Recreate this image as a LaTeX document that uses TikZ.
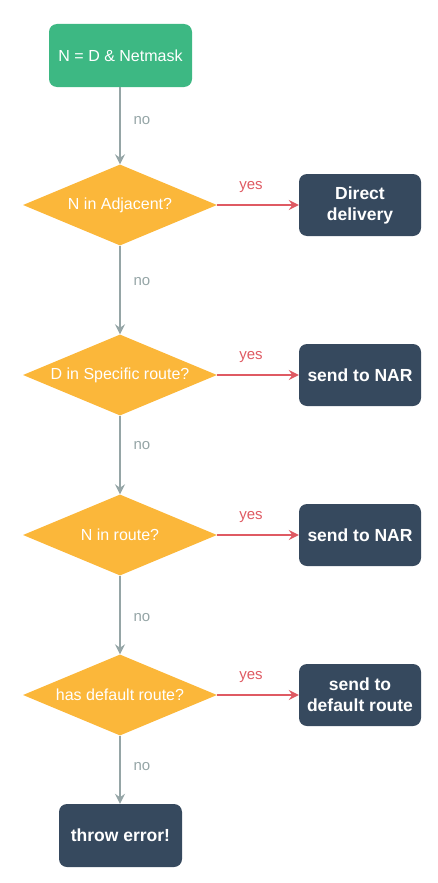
\documentclass[tikz,border=0pt]{standalone}
\usepackage{fontspec}
\setmainfont{Liberation Sans}
\usetikzlibrary{shapes.geometric,arrows.meta}
\definecolor{startgreen}{HTML}{3DB883}
\definecolor{dark}{HTML}{36495E}
\definecolor{amber}{HTML}{FBB73A}
\definecolor{noline}{HTML}{95A5A6}
\definecolor{yesline}{HTML}{DF5A63}
\tikzset{
  startbox/.style={draw=none,fill=startgreen,rounded corners=8pt,minimum width=143pt,minimum height=63pt,text=white,font=\fontsize{16}{19}\selectfont},
  endbox/.style={draw=none,fill=dark,rounded corners=8pt,minimum width=122pt,minimum height=62pt,text=white,font=\bfseries\fontsize{17.5}{21}\selectfont,align=center,inner sep=0pt},
  decide/.style={diamond,draw=none,fill=amber,minimum width=194pt,minimum height=81pt,aspect=2.4,inner sep=0pt},
  dtext/.style={text=white,font=\fontsize{16}{19}\selectfont},
  noarrow/.style={draw=noline,line width=1.6pt,-{Stealth[length=10pt,width=10pt,inset=3.5pt]}},
  yesarrow/.style={draw=yesline,line width=1.6pt,-{Stealth[length=10pt,width=10pt,inset=3.5pt]}},
  nolabel/.style={text=noline,font=\fontsize{15}{18}\selectfont},
  yeslabel/.style={text=yesline,font=\fontsize{15}{18}\selectfont}
}
\begin{document}
\begin{tikzpicture}[x=1pt,y=-1pt]
\useasboundingbox (0,0) rectangle (438,883);
\node[startbox] (s) at (120.5,55.5) {N = D \& Netmask};
\node[decide] (d1) at (120,205) {};
\node[dtext] (t1) at (120,205) {N in Adjacent?};
\node[decide] (d2) at (120,375) {};
\node[dtext] (t2) at (120,375) {D in Specific route?};
\node[decide] (d3) at (120,535) {};
\node[dtext] (t3) at (120,535) {N in route?};
\node[decide] (d4) at (120,695) {};
\node[dtext] (t4) at (120,695) {has default route?};
\node[endbox] (e1) at (360,205) {Direct\\delivery};
\node[endbox] (e2) at (360,375) {send to NAR};
\node[endbox] (e3) at (360,535) {send to NAR};
\node[endbox] (e4) at (360,695) {send to\\default route};
\node[endbox,minimum width=123pt,minimum height=63pt] (err) at (120.5,835.5) {throw error!};
\draw[noarrow] (s.south -| d1.north) -- (d1.north);
\draw[noarrow] (d1.south) -- (d2.north);
\draw[noarrow] (d2.south) -- (d3.north);
\draw[noarrow] (d3.south) -- (d4.north);
\draw[noarrow] (d4.south) -- (err.north -| d4.south);
\draw[yesarrow] (d1.east) -- (e1.west);
\draw[yesarrow] (d2.east) -- (e2.west);
\draw[yesarrow] (d3.east) -- (e3.west);
\draw[yesarrow] (d4.east) -- (e4.west);
\node[nolabel] (n1) at (142,121) {no};
\node[nolabel] (n2) at (142,282) {no};
\node[nolabel] (n3) at (142,446) {no};
\node[nolabel] (n4) at (142,618) {no};
\node[nolabel] (n5) at (142,767) {no};
\node[yeslabel] (y1) at (251,187) {yes};
\node[yeslabel] (y2) at (251,357) {yes};
\node[yeslabel] (y3) at (251,517) {yes};
\node[yeslabel] (y4) at (251,677) {yes};
\end{tikzpicture}
\end{document}
